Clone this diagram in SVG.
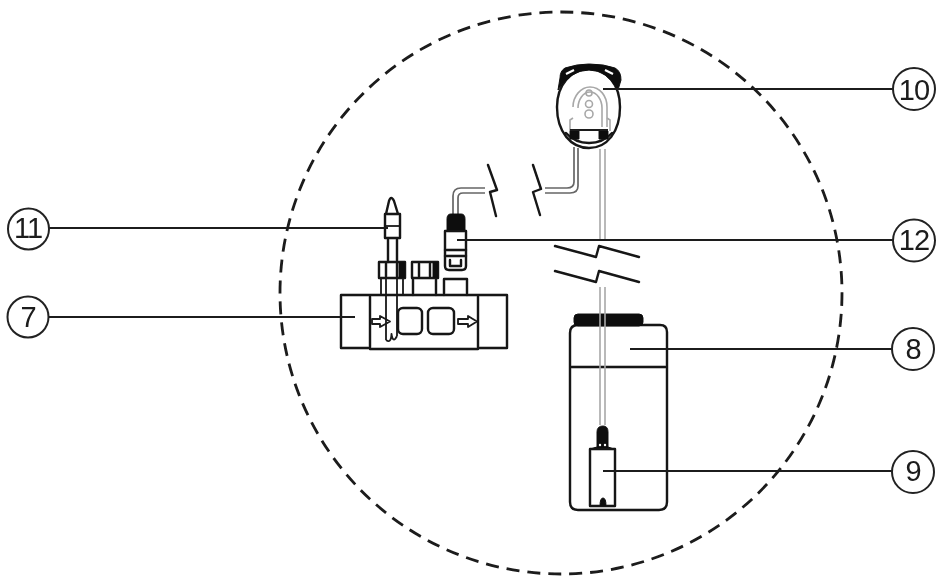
<svg xmlns="http://www.w3.org/2000/svg" width="936" height="576" viewBox="0 0 936 576">
<defs><filter id="soft" x="0" y="0" width="936" height="576" filterUnits="userSpaceOnUse"><feGaussianBlur stdDeviation="0.45"/></filter></defs>
<style>
.k{fill:none;stroke:#151515;stroke-width:2.4;stroke-linecap:round;stroke-linejoin:round}
.t{fill:none;stroke:#1a1a1a;stroke-width:1.8;stroke-linejoin:round}
.g{fill:none;stroke:#a8a8a8;stroke-width:1.6}
.d{fill:none;stroke:#666;stroke-width:1.7}
.b{fill:#111;stroke:#111;stroke-width:1;stroke-linejoin:round}
.l{fill:none;stroke:#1a1a1a;stroke-width:2}
.c{fill:#fff;stroke:#222;stroke-width:2}
.n{font-family:"Liberation Sans",Arial,sans-serif;font-size:29px;fill:#1a1a1a;text-anchor:middle;letter-spacing:-1px}
</style>
<rect width="936" height="576" fill="#fff"/>
<g filter="url(#soft)">
<circle id="boundary" cx="561" cy="293" r="281" fill="none" stroke="#1a1a1a" stroke-width="2.8" stroke-dasharray="13 8"/>
<g id="n10">
<path class="k" d="M589 69C607 69 620 85 620 107C620 132 607 148 589 148C571 148 557 132 557 107C557 85 571 69 589 69Z" stroke-width="3.6"/>
<path class="b" d="M560 78Q560 71 565 68Q577 64 589 64Q604 64 615 68Q621 71 621 80L618 90Q607 70 589 70Q571 70 558 90Z"/>
<path d="M566 74L574 70M605 70L613 74" stroke="#fff" stroke-width="2" fill="none"/>
<path class="k" d="M566 133Q575 143 589 143Q603 143 612 133" stroke-width="1.800"/>
<path class="g" d="M573 107C573 96 581 87 590 87C600 87 607 96 607 107V127M578 108C578 100 583 92 590 92C597 92 602 100 602 108V127"/>
<path class="g" d="M570 131V120L573 118M610 131V120L607 118"/>
<circle class="g" cx="589" cy="93" r="3"/><circle class="g" cx="589" cy="104" r="3.500"/><circle class="g" cx="589" cy="114" r="4"/>
<rect class="b" x="570" y="131" width="9" height="8"/><rect class="b" x="599" y="131" width="9" height="8"/>
<path class="t" d="M570 130H608"/>
</g>
<g id="n11">
<path class="k" d="M386 214L389 201Q391 195 394 201L398 214M385 214H400V238H385ZM388 238V262M397 238V262"/>
<path class="t" d="M386 226H399"/>
<path class="k" d="M379 262H405V278H379ZM386 262V278M397 262V278"/>
<rect class="b" x="399" y="262" width="6" height="16"/>
<path class="t" d="M381 278V294M386 278V340M397 278V336M403 278V294"/>
<path class="t" d="M386 340Q391 344 391.500 334Q393 344 397 336"/>
</g>
<g id="n12">
<path class="d" d="M453 214V196Q453 188 461 188H485M458 214V198Q458 193 463 193H485"/>
<path class="b" d="M447 219Q447 214 451 214H461Q465 214 465 219V230H447Z"/>
<path class="k" d="M445 231H466V266Q466 270 462 270H449Q445 270 445 266Z"/>
<path class="k" d="M445 250H466M445 256H466"/>
<path class="k" d="M450 260V266H461V260" stroke-width="1.800"/>
</g>
<g id="n7">
<path class="k" d="M341 295H370V348H341ZM370 295H478V349H370ZM478 295H507V348H478"/>
<path class="k" d="M413 278V295M436 278V295M444 279V295M467 279V295M444 279H467" stroke-width="1.900"/>
<path class="k" d="M412 262H438V278H412ZM419 262V278M430 262V278" stroke-width="1.900"/>
<path class="b" d="M433 262H438V278H433Z"/>
<rect x="398" y="308" width="24" height="26" rx="5" class="k"/>
<rect x="428" y="308" width="26" height="26" rx="5" class="k"/>
<path class="t" d="M372 319H380V316L390 321.500L380 327V324H372Z"/>
<path class="t" d="M458 319H468V316L477 321.500L468 327V324H458Z"/>
</g>
<g id="n8">
<path class="k" d="M578 325H660Q667 325 667 332V502Q667 510 659 510H578Q570 510 570 502V333Q570 325 578 325Z"/>
<path class="k" d="M571 367H666"/>
<rect class="b" x="574" y="314" width="69" height="12" rx="4"/>
</g>
<g id="n9">
<path class="b" d="M597 447V432Q597 426 603 426Q608 426 608 432V447L614 449H590Z"/>
<circle cx="600" cy="445" r="1.200" fill="#fff"/><circle cx="605" cy="445" r="1.200" fill="#fff"/>
<rect class="k" x="590" y="449" width="25" height="57"/>
<path class="b" d="M600 506Q600 498 603 498Q606 498 606 506Z"/>
</g>
<g id="connectors">
<path class="g" d="M600 149V240M605 149V240M600 287V425M605 287V425"/>
<path class="d" d="M574 147V182Q574 188 567 188H545M578 148V186Q578 193 570 193H545"/>
<path class="k" d="M488 165L497 190L490 192L496 216M533 165L541 189L533 192L540 215"/>
<path class="k" d="M555 246L596 257L599 246L639 257M555 271L596 282L599 271L639 282"/>
<path class="l" d="M49 228H388M48 317H355M603 89H893M457 240H893M630 349H892M603 471H892"/>
</g>
<g id="label11"><circle class="c" cx="28.500" cy="229" r="20.500"/><text class="n" x="28" y="238">11</text></g>
<g id="label7"><circle class="c" cx="28" cy="317" r="20.500"/><text class="n" x="28" y="327">7</text></g>
<g id="label10"><circle class="c" cx="914" cy="89" r="21"/><text class="n" x="914" y="100">10</text></g>
<g id="label12"><circle class="c" cx="914" cy="240.500" r="21"/><text class="n" x="914" y="250">12</text></g>
<g id="label8"><circle class="c" cx="913" cy="349" r="21"/><text class="n" x="913" y="359">8</text></g>
<g id="label9"><circle class="c" cx="913" cy="472" r="21"/><text class="n" x="913" y="481">9</text></g>
</g>
</svg>
